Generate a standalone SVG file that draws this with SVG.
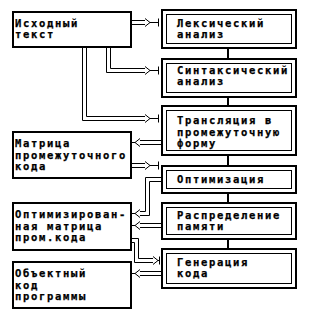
<svg xmlns="http://www.w3.org/2000/svg" width="309" height="324" viewBox="0 0 309 324">
<style>
.lb{fill:#fff;stroke:#000;stroke-width:2}
.ro{fill:#fff;stroke:#000;stroke-width:2}
.ri{fill:none;stroke:#000;stroke-width:1}
.t{font-family:"DejaVu Sans Mono","Liberation Mono",monospace;font-weight:bold;font-size:10.5px;letter-spacing:1.68px;fill:#000;stroke:#000;stroke-width:0.25}
.c{fill:none;stroke:#000;stroke-width:1}
.v{fill:none;stroke:#000;stroke-width:2}
</style>
<rect width="309" height="324" fill="#fff"/>
<g id="connectors">
<path class="v" d="M228 48V59M228 97V106M228 155V166M228 193V203M228 239V249"/>
<path class="c" d="M132 20.5H145M132 24.5H145M145 18.5L150 22.5L145 26.5M150 22.5H158.5M158.5 18.5V26.5"/>
<path class="c" d="M106.5 48V72.5H145M110.5 48V68.5H145M145 66.5L150 70.5L145 74.5M150 70.5H158.5M158.5 66.5V74.5"/>
<path class="c" d="M82.5 48V120.5H145M86.5 48V116.5H145M145 114.5L150 118.5L145 122.5M150 118.5H158.5M158.5 114.5V122.5"/>
<path class="c" d="M161 140.5H140M161 144.5H140M140 138.5L135 142.5L140 146.5M135 142.5H132"/>
<path class="c" d="M132 163.5H145M132 167.5H145M145 161.5L150 165.5L145 169.5M150 165.5H158.5M158.5 161.5V169.5"/>
<path class="c" d="M161 177.5H145.5V211.5H140M161 181.5H149.5V215.5H140M140 209.5L135 213.5L140 217.5M135 213.5H132"/>
<path class="c" d="M161 223.5H140M161 227.5H140M140 221.5L135 225.5L140 229.5M135 225.5H132"/>
<path class="c" d="M132 238.5H138.5V258.5H153M132 242.5H134.5V262.5H153M153 256.5L158 260.5L153 264.5M158 260.5H159.5M159.5 256.5V264.5"/>
<path class="c" d="M161 271.5H140M161 275.5H140M140 269.5L135 273.5L140 277.5M135 273.5H132"/>
</g>
<g id="src">
<rect class="lb" x="13" y="12" width="118" height="35"/>
<text class="t" x="15" y="27">Исходный</text>
<text class="t" x="15" y="38">текст</text>
</g>
<g id="matrix">
<rect class="lb" x="13" y="132" width="118" height="46"/>
<text class="t" x="15" y="147">Матрица</text>
<text class="t" x="15" y="158.5">промежуточного</text>
<text class="t" x="15" y="170">кода</text>
</g>
<g id="optmatrix">
<rect class="lb" x="13" y="203" width="118" height="47"/>
<text class="t" x="15" y="218">Оптимизирован-</text>
<text class="t" x="15" y="229.5">ная матрица</text>
<text class="t" x="15" y="241">пром.кода</text>
</g>
<g id="objcode">
<rect class="lb" x="13" y="262" width="118" height="46"/>
<text class="t" x="15" y="277">Объектный</text>
<text class="t" x="15" y="288.5">код</text>
<text class="t" x="15" y="300">программы</text>
</g>
<g id="lex">
<rect class="ro" x="162" y="10" width="134" height="38"/>
<rect class="ri" x="166.5" y="14.5" width="125" height="29"/>
<text class="t" x="177" y="27">Лексический</text>
<text class="t" x="177" y="38">анализ</text>
</g>
<g id="syn">
<rect class="ro" x="162" y="59" width="134" height="38"/>
<rect class="ri" x="166.5" y="63.5" width="125" height="29"/>
<text class="t" x="177" y="74">Синтаксический</text>
<text class="t" x="177" y="85">анализ</text>
</g>
<g id="trans">
<rect class="ro" x="162" y="106" width="134" height="49"/>
<rect class="ri" x="166.5" y="110.5" width="125" height="40"/>
<text class="t" x="177" y="124">Трансляция в</text>
<text class="t" x="177" y="135.5">промежуточную</text>
<text class="t" x="177" y="147">форму</text>
</g>
<g id="opt">
<rect class="ro" x="162" y="166" width="134" height="27"/>
<rect class="ri" x="166.5" y="170.5" width="125" height="18"/>
<text class="t" x="177" y="183">Оптимизация</text>
</g>
<g id="alloc">
<rect class="ro" x="162" y="203" width="134" height="36"/>
<rect class="ri" x="166.5" y="207.5" width="125" height="27"/>
<text class="t" x="177" y="219">Распределение</text>
<text class="t" x="177" y="230">памяти</text>
</g>
<g id="gen">
<rect class="ro" x="162" y="249" width="134" height="39"/>
<rect class="ri" x="166.5" y="253.5" width="125" height="30"/>
<text class="t" x="177" y="266">Генерация</text>
<text class="t" x="177" y="277">кода</text>
</g>
</svg>
